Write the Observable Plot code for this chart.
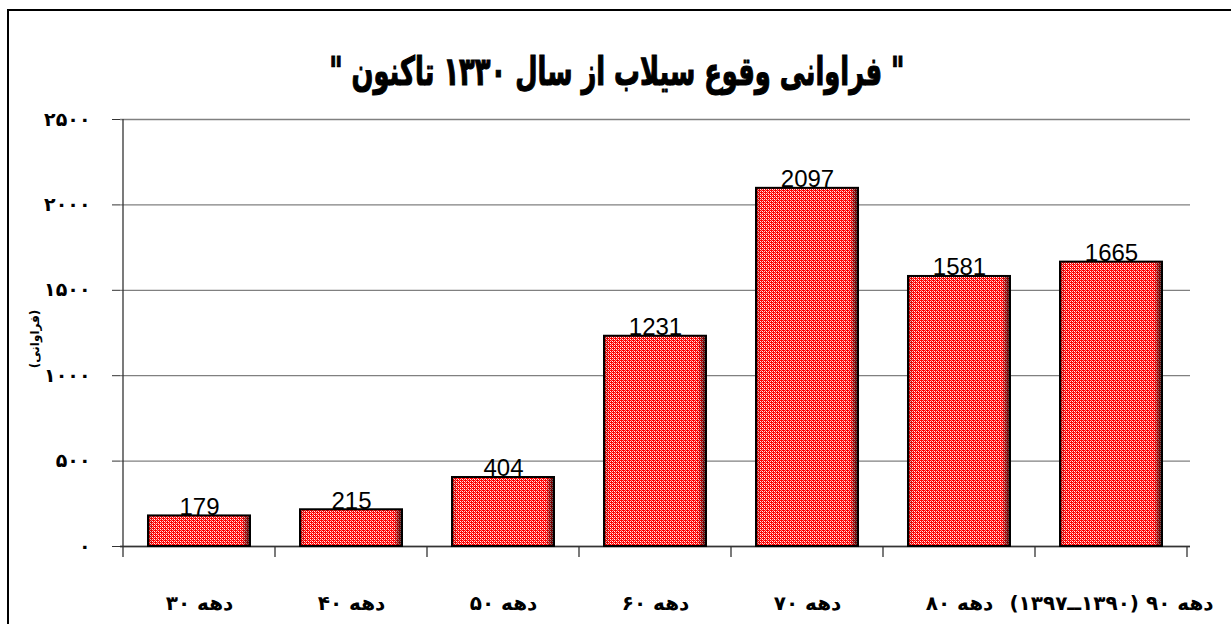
<!DOCTYPE html>
<html>
<head>
<meta charset="utf-8">
<script src="https://cdn.jsdelivr.net/npm/d3@7"></script>
<script src="https://cdn.jsdelivr.net/npm/@observablehq/plot@0.6"></script>
<style>
  html, body { margin: 0; padding: 0; background: #fff; overflow: hidden; }
  #wrap { position: relative; width: 1231px; height: 624px; }
  #frame { position: absolute; left: 7px; top: 9px; width: 1400px; height: 800px;
           border-top: 2px solid #000; border-left: 2px solid #000; }
  #title { position: absolute; left: 0; top: 46px; width: 1234px; height: 52px; line-height: 52px;
           text-align: center; white-space: nowrap; }
  #title span { display: inline-block; font-family: "DejaVu Sans", sans-serif; font-weight: bold;
           font-size: 33px; color: #000; transform: scale(0.78, 1.2); -webkit-text-stroke: 1px #000; }
  #chart { position: absolute; left: 0; top: 105px; }
</style>
</head>
<body>
<div id="wrap">
  <div id="frame"></div>
  <div id="title"><span id="titleText" dir="rtl"></span></div>
  <div id="chart"></div>
</div>
<script>
// ---- data ----
const titleText = "\" فراوانی وقوع سیلاب از سال ۱۳۳۰ تاکنون \"";
const yLabelText = "(فراوانی)";
const categories = ["دهه ۳۰", "دهه ۴۰", "دهه ۵۰", "دهه ۶۰", "دهه ۷۰", "دهه ۸۰", "دهه ۹۰ (۱۳۹۰ــ۱۳۹۷)"];
const counts = [179, 215, 404, 1231, 2097, 1581, 1665];
const yTicks = [0, 500, 1000, 1500, 2000, 2500];

const rows = categories.map((c, i) => ({cat: c, val: counts[i]}));
const faDigits = "۰۱۲۳۴۵۶۷۸۹";
const toFa = n => String(n).replace(/\d/g, d => faDigits[+d]);
const rtl = s => "\u202B" + s + "\u202C";

document.getElementById("titleText").textContent = titleText;

const persianFont = "DejaVu Sans, sans-serif";

const plot = Plot.plot({
  width: 1231,
  height: 519,
  marginTop: 14,
  marginBottom: 78,
  marginLeft: 120,
  marginRight: 41,
  style: {background: "transparent", color: "#000"},
  x: {domain: categories, paddingInner: 0.33, paddingOuter: 0.165, label: null},
  y: {domain: [0, 2500], label: null},
  marks: [
    Plot.gridY(yTicks, {stroke: "#808080", strokeOpacity: 1, strokeWidth: 1.3}),
    Plot.ruleY([0], {stroke: "#333", strokeWidth: 1.3}),
    Plot.axisY(yTicks, {
      tickSize: 8, tickPadding: 22, tickFormat: toFa, stroke: "#333",
      fontSize: 19, fontWeight: "bold", fontFamily: persianFont, label: null
    }),
    Plot.axisX({
      tickSize: 0, tickPadding: 49, tickFormat: rtl,
      fontSize: 20, fontWeight: "bold", fontFamily: persianFont, label: null
    }),
    Plot.text([yLabelText], {
      text: d => d, frameAnchor: "left", textAnchor: "middle", dx: -85, dy: 6, rotate: -90,
      fontSize: 12, fontWeight: "bold", fontFamily: persianFont, fill: "#000"
    }),
    Plot.barY(rows, {x: "cat", y: "val", fill: "url(#redPattern)", stroke: "#000", strokeWidth: 2}),
    Plot.barY(rows, {x: "cat", y: "val", fill: "url(#edgeShade)", inset: 1}),
    Plot.text(rows, {
      x: "cat", y: "val", text: d => String(d.val), lineAnchor: "bottom", dy: -1,
      fontSize: 24, fontFamily: "Liberation Sans, Arial, sans-serif", fill: "#000"
    })
  ]
});

// pattern and shading definitions
const svg = d3.select(plot);
const defs = svg.insert("defs", ":first-child");
const pat = defs.append("pattern").attr("id", "redPattern")
  .attr("patternUnits", "userSpaceOnUse").attr("width", 4).attr("height", 4);
pat.append("rect").attr("width", 4).attr("height", 4).attr("fill", "#ff0000");
[[0,0,"#ffffff"],[2,2,"#ffffff"],[2,0,"#ffd0d0"],[0,2,"#ffd0d0"],[1,1,"#ff8080"],[3,3,"#ff8080"]].forEach(([x,y,c]) =>
  pat.append("rect").attr("x", x).attr("y", y).attr("width", 1).attr("height", 1).attr("fill", c));
const grad = defs.append("linearGradient").attr("id", "edgeShade")
  .attr("x1", 0).attr("x2", 1).attr("y1", 0).attr("y2", 0);
[[0,"#000",0.25],[0.04,"#000",0],[0.93,"#000",0],[1,"#000",0.65]].forEach(([o,c,a]) =>
  grad.append("stop").attr("offset", o).attr("stop-color", c).attr("stop-opacity", a));

// left axis line and category boundary ticks from the library's scales
const xs = plot.scale("x"), ys = plot.scale("y");
const y0 = ys.apply(0), yTop = ys.apply(yTicks[yTicks.length - 1]);
const step = xs.step ?? (xs.apply(categories[1]) - xs.apply(categories[0]));
const bw = xs.bandwidth;
const bounds = categories.map(c => xs.apply(c) - (step - bw) / 2);
bounds.push(xs.apply(categories[categories.length - 1]) + bw + (step - bw) / 2);
const g = svg.append("g").attr("stroke", "#333").attr("stroke-width", 1.3);
g.append("line").attr("x1", bounds[0]).attr("x2", bounds[0]).attr("y1", yTop).attr("y2", y0);
bounds.forEach(b => g.append("line").attr("x1", b).attr("x2", b).attr("y1", y0).attr("y2", y0 + 11));

document.getElementById("chart").appendChild(plot);
</script>
</body>
</html>
